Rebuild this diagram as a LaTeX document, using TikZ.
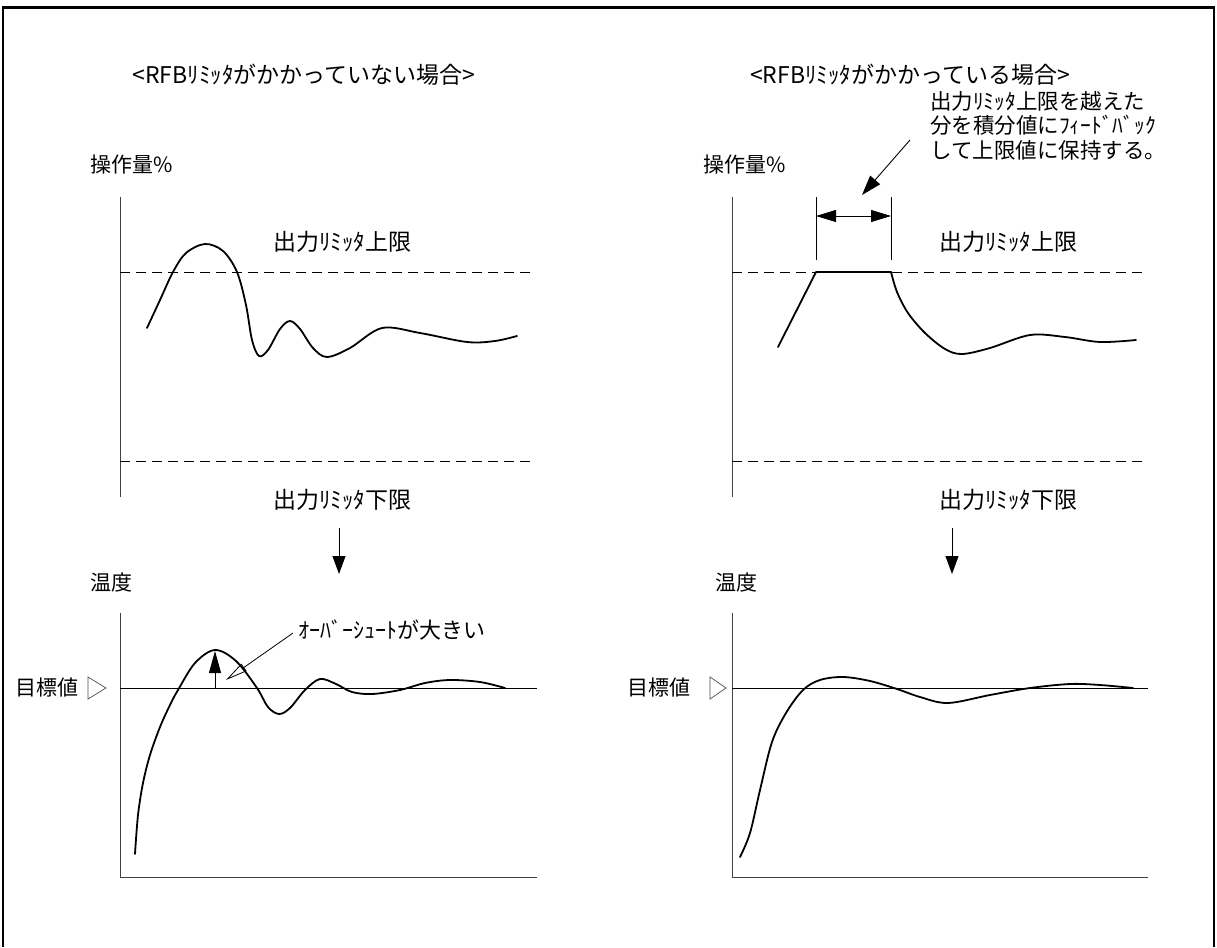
\documentclass[tikz,border=0pt]{standalone}
\usepackage{fontspec}
\setmainfont{Noto Sans CJK JP}
\usetikzlibrary{arrows.meta}
\begin{document}
\begin{tikzpicture}[x=1pt,y=-1pt,
  lbl/.style={inner sep=0pt, font=\fontsize{21}{25}\selectfont},
  big/.style={inner sep=0pt, font=\fontsize{23}{27}\selectfont},
  note/.style={inner sep=0pt, align=left, font=\fontsize{21.5}{24.5}\selectfont},
  axisline/.style={line width=1pt, draw=black!75},
  limline/.style={line width=0.9pt, dash pattern=on 10pt off 6pt},
  setline/.style={line width=0.9pt},
  curve/.style={line width=1.8pt, line join=round, line cap=round},
  bigarrow/.style={line width=0.9pt, -{Triangle[length=18pt,width=13pt]}},
  dimarrow/.style={line width=0.9pt, {Triangle[length=20pt,width=12pt]}-{Triangle[length=20pt,width=12pt]}},
  leader/.style={line width=0.8pt, -{Triangle[open,length=22pt,width=9pt]}},
  tri/.style={line width=0.7pt, draw=black!70}]
\useasboundingbox (0,0) rectangle (1217,947);
% frame
\draw[line width=3pt] (2,8) -- (1215,8);
\draw[line width=1.3pt] (3,8) -- (3,947);
\draw[line width=1.3pt] (1214,8) -- (1214,947);

% ================= LEFT =================
\node[big] (tL) at (304,75) {<RFBﾘﾐｯﾀがかかっていない場合>};
\node[lbl, anchor=west] (yL) at (90,165) {操作量\%};
\coordinate (axLt) at (120,197);
\coordinate (axLb) at (120,497);
\draw[axisline] (axLt) -- (axLb);
\coordinate (upLa) at (120,272);
\coordinate (upLb) at (530,272);
\coordinate (loLa) at (120,461);
\coordinate (loLb) at (530,461);
\draw[limline] (upLa) -- (upLb);
\draw[limline] (loLa) -- (loLb);
\node[big] (upTL) at (342,242) {出力ﾘﾐｯﾀ上限};
\node[big] (loTL) at (342,500) {出力ﾘﾐｯﾀ下限};
\draw[curve] plot[smooth, tension=0.55] coordinates {
 (147,328) (160,300) (173,272) (186,253) (205,244) (223,251) (237,272)
 (246,305) (252,340) (259,356) (268,350) (280,329) (290,321) (300,329)
 (313,348) (327,357) (350,348) (382,328) (420,333) (467,342) (495,341) (517,336)};
\coordinate (dLs) at (339,528);
\coordinate (dLe) at (339,574);
\draw[bigarrow] (dLs) -- (dLe);

\node[lbl, anchor=west] (tmpL) at (90,583) {温度};
\coordinate (bxLt) at (120,613);
\coordinate (bxLo) at (120,877);
\coordinate (bxLr) at (537,877);
\draw[axisline] (bxLt) -- (bxLo) -- (bxLr);
\coordinate (spLa) at (120,688);
\coordinate (spLb) at (537,688);
\draw[setline] (spLa) -- (spLb);
\node[lbl, anchor=west] (svL) at (15,688) {目標値};
\draw[tri] (88,677) -- (106,688) -- (88,699) -- cycle;
\draw[curve] plot[smooth, tension=0.55] coordinates {
 (135,854) (138,815) (143,783) (150,755) (160,727) (170,705) (178,690)
 (195,663) (215,650) (236,661) (257,688) (268,707) (279,714) (290,708)
 (305,690) (320,679) (336,684) (352,692) (372,694) (400,690) (425,683)
 (450,680) (480,682) (505,688)};
\coordinate (osB) at (215,688);
\coordinate (osT) at (215,651);
\draw[line width=0.9pt, -{Triangle[length=22pt,width=12pt]}] (osB) -- (osT);
\node[inner sep=0pt, font=\fontsize{22}{25}\selectfont, anchor=west] (osN) at (298,630) {ｵｰﾊﾞｰｼｭｰﾄが大きい};
\coordinate (osP) at (226,680);
\draw[leader] (osN.west) ++(-5,3) coordinate (osS) -- (osP);

% ================= RIGHT =================
\node[big] (tR) at (910,75) {<RFBﾘﾐｯﾀがかかっている場合>};
\node[lbl, anchor=west] (yR) at (703,165) {操作量\%};
\coordinate (axRt) at (732,197);
\coordinate (axRb) at (732,497);
\draw[axisline] (axRt) -- (axRb);
\coordinate (upRa) at (732,272);
\coordinate (upRb) at (1143,272);
\coordinate (loRa) at (732,461);
\coordinate (loRb) at (1143,461);
\draw[limline] (upRa) -- (upRb);
\draw[limline] (loRa) -- (loRb);
\node[big] (upTR) at (1008,242) {出力ﾘﾐｯﾀ上限};
\node[big] (loTR) at (1008,500) {出力ﾘﾐｯﾀ下限};
\coordinate (cs) at (778,347);
\coordinate (c1) at (816,272);
\coordinate (c2) at (891,272);
\draw[curve] (cs) -- (c1) -- (c2);
\draw[curve] plot[smooth, tension=0.55] coordinates {
 (891,272) (897,292) (908,313) (925,333) (945,349) (962,354) (990,348)
 (1030,335) (1065,337) (1100,342) (1136,340)};
% dimension
\coordinate (d1t) at (816,197);
\coordinate (d1b) at (816,260);
\coordinate (d2t) at (891,197);
\coordinate (d2b) at (891,260);
\draw[line width=0.7pt] (d1t) -- (d1b);
\draw[line width=0.7pt] (d2t) -- (d2b);
\coordinate (dA) at (816,216);
\coordinate (dB) at (891,216);
\draw[dimarrow] (dA) -- (dB);
\node[note, anchor=north west] (nt) at (930,91) {出力ﾘﾐｯﾀ上限を越えた\\分を積分値にﾌｨｰﾄﾞﾊﾞｯｸ\\して上限値に保持する。};
\coordinate (ldS) at (910,140);
\coordinate (ldE) at (862,195);
\draw[line width=0.9pt, -{Triangle[length=20pt,width=13pt]}] (ldS) -- (ldE);
\coordinate (dRs) at (952,528);
\coordinate (dRe) at (952,574);
\draw[bigarrow] (dRs) -- (dRe);

\node[lbl, anchor=west] (tmpR) at (715,583) {温度};
\coordinate (bxRt) at (732,613);
\coordinate (bxRo) at (732,877);
\coordinate (bxRr) at (1148,877);
\draw[axisline] (bxRt) -- (bxRo) -- (bxRr);
\coordinate (spRa) at (732,688);
\coordinate (spRb) at (1148,688);
\draw[setline] (spRa) -- (spRb);
\node[lbl, anchor=west] (svR) at (627,688) {目標値};
\draw[tri] (710,677) -- (726,688) -- (710,699) -- cycle;
\draw[curve] plot[smooth, tension=0.55] coordinates {
 (740,857) (750,833) (760,790) (772,742) (786,713) (803,690) (820,680)
 (843,677) (870,681) (897,689) (920,697) (948,703) (990,695) (1030,688)
 (1070,684) (1100,685) (1133,688)};
\end{tikzpicture}
\end{document}
